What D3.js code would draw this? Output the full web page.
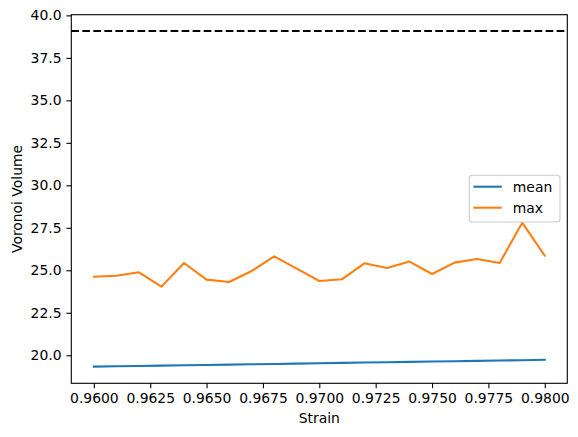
<!DOCTYPE html>
<html>
<head>
<meta charset="utf-8">
<script src="https://cdn.jsdelivr.net/npm/d3@7.9.0/dist/d3.min.js"></script>
<style>
  body { margin: 0; background: #fff; }
  svg { font-family: "DejaVu Sans", sans-serif; }
</style>
</head>
<body>
<svg id="chart" width="578" height="437"></svg>
<script>
const strain = [0.960, 0.961, 0.962, 0.963, 0.964, 0.965, 0.966, 0.967, 0.968, 0.969, 0.970,
                0.971, 0.972, 0.973, 0.974, 0.975, 0.976, 0.977, 0.978, 0.979, 0.980];
const meanVol = [19.33, 19.35, 19.37, 19.39, 19.41, 19.43, 19.45, 19.47, 19.49, 19.51, 19.53,
                 19.55, 19.57, 19.59, 19.61, 19.63, 19.65, 19.67, 19.69, 19.71, 19.73];
const maxVol = [24.62, 24.68, 24.88, 24.04, 25.43, 24.45, 24.31, 24.96, 25.82, 25.10, 24.37,
                24.47, 25.41, 25.14, 25.51, 24.78, 25.45, 25.66, 25.43, 27.80, 25.86];
const refLine = 39.08;
const xTicks = [0.96, 0.9625, 0.965, 0.9675, 0.97, 0.9725, 0.975, 0.9775, 0.98];
const yTicks = [20, 22.5, 25, 27.5, 30, 32.5, 35, 37.5, 40];
const seriesNames = ['mean', 'max'];
const colors = ['#1f77b4', '#ff7f0e'];

const plotL = 71.3, plotR = 567.3, plotT = 14.7, plotB = 383.3;
const fs = 13.9;

const x = d3.scaleLinear().domain([0.959, 0.981]).range([plotL, plotR]);
const y = d3.scaleLinear().domain([18.35, 40.04]).range([plotB, plotT]);

const svg = d3.select('#chart');

// reference line (axhline)
svg.append('line')
    .attr('x1', plotL).attr('x2', plotR)
    .attr('y1', y(refLine)).attr('y2', y(refLine))
    .attr('stroke', '#000').attr('stroke-width', 2.08)
    .attr('stroke-dasharray', '7.7,3.33');

const line = d3.line().x(d => x(d[0])).y(d => y(d[1]));
[meanVol, maxVol].forEach((vals, i) => {
    svg.append('path')
        .datum(strain.map((s, j) => [s, vals[j]]))
        .attr('d', line)
        .attr('fill', 'none')
        .attr('stroke', colors[i])
        .attr('stroke-width', 2.08)
        .attr('stroke-linejoin', 'round')
        .attr('stroke-linecap', 'square');
});

// axes
const xAxis = d3.axisBottom(x).tickValues(xTicks).tickFormat(d3.format('.4f'))
    .tickSizeInner(4.9).tickSizeOuter(0).tickPadding(4.9);
const yAxis = d3.axisLeft(y).tickValues(yTicks).tickFormat(d3.format('.1f'))
    .tickSizeInner(4.9).tickSizeOuter(0).tickPadding(4.9);

const gx = svg.append('g').attr('transform', `translate(0,${plotB})`).call(xAxis);
const gy = svg.append('g').attr('transform', `translate(${plotL},0)`).call(yAxis);
[gx, gy].forEach(g => {
    g.select('.domain').remove();
    g.selectAll('line').attr('stroke', '#000').attr('stroke-width', 1.1);
    g.selectAll('text').attr('font-size', fs).attr('fill', '#000')
        .attr('font-family', '"DejaVu Sans", sans-serif');
});

// frame
svg.append('rect')
    .attr('x', plotL).attr('y', plotT)
    .attr('width', plotR - plotL).attr('height', plotB - plotT)
    .attr('fill', 'none').attr('stroke', '#000').attr('stroke-width', 1.1);

// axis labels
svg.append('text').attr('x', (plotL + plotR) / 2).attr('y', 423)
    .attr('text-anchor', 'middle').attr('font-size', fs).text('Strain');
svg.append('text')
    .attr('transform', `translate(22,${(plotT + plotB) / 2}) rotate(-90)`)
    .attr('text-anchor', 'middle').attr('font-size', fs).text('Voronoi Volume');

// legend
const lg = svg.append('g').attr('transform', 'translate(469.3,175.3)');
lg.append('rect').attr('width', 90.7).attr('height', 46.7).attr('rx', 3)
    .attr('fill', '#fff').attr('fill-opacity', 0.8)
    .attr('stroke', '#cccccc').attr('stroke-width', 1.1);
seriesNames.forEach((name, i) => {
    const yy = 11.4 + i * 21;
    lg.append('line').attr('x1', 4).attr('x2', 32.5)
        .attr('y1', yy).attr('y2', yy)
        .attr('stroke', colors[i]).attr('stroke-width', 2.08);
    lg.append('text').attr('x', 43.5).attr('y', yy + 5)
        .attr('font-size', fs).text(name);
});
</script>
</body>
</html>
